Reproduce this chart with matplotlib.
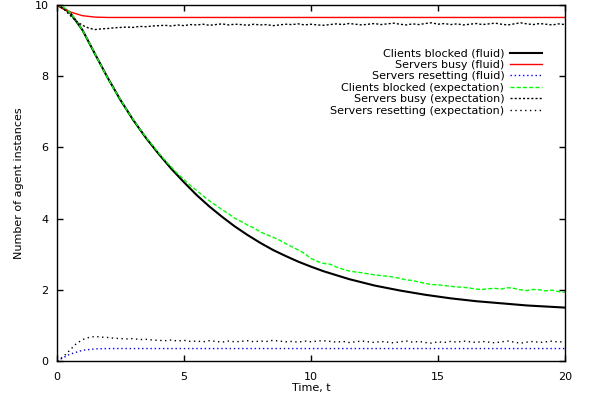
import numpy as np
import matplotlib
matplotlib.use('Agg')
import matplotlib.pyplot as plt

# time axes
t_fluid = np.arange(0, 20.01, 0.5)
t_sim = np.arange(0, 20.01, 0.25)

clients_fluid = [10.0, 9.80, 9.30, 8.62, 7.95, 7.33, 6.77, 6.27, 5.82, 5.40,
                 5.02, 4.66, 4.34, 4.05, 3.78, 3.54, 3.32, 3.12, 2.95, 2.79,
                 2.65, 2.52, 2.41, 2.30, 2.21, 2.12, 2.05, 1.98, 1.92, 1.86,
                 1.81, 1.76, 1.72, 1.68, 1.65, 1.62, 1.59, 1.56, 1.54, 1.52,
                 1.50]
busy_fluid = [10.0, 9.81, 9.70, 9.66, 9.65, 9.65, 9.65, 9.65, 9.65, 9.65,
              9.65, 9.65, 9.65, 9.65, 9.65, 9.65, 9.65, 9.65, 9.65, 9.65,
              9.65, 9.65, 9.65, 9.65, 9.65, 9.65, 9.65, 9.65, 9.65, 9.65,
              9.65, 9.65, 9.65, 9.65, 9.65, 9.65, 9.65, 9.65, 9.65, 9.65,
              9.65]
resetting_fluid = [0.0, 0.19, 0.30, 0.34, 0.35, 0.35, 0.35, 0.35, 0.35, 0.35,
                   0.35, 0.35, 0.35, 0.35, 0.35, 0.35, 0.35, 0.35, 0.35, 0.35,
                   0.35, 0.35, 0.35, 0.35, 0.35, 0.35, 0.35, 0.35, 0.35, 0.35,
                   0.35, 0.35, 0.35, 0.35, 0.35, 0.35, 0.35, 0.35, 0.35, 0.35,
                   0.35]

clients_exp = [10.00, 9.95, 9.80, 9.57, 9.30, 8.97, 8.63, 8.28, 7.95, 7.63,
               7.35, 7.05, 6.79, 6.53, 6.29, 6.07, 5.85, 5.64, 5.45, 5.26,
               5.10, 4.93, 4.79, 4.64, 4.50, 4.38, 4.25, 4.14, 4.01, 3.92,
               3.82, 3.74, 3.63, 3.55, 3.48, 3.40, 3.30, 3.21, 3.12, 3.02,
               2.88, 2.80, 2.74, 2.72, 2.64, 2.58, 2.53, 2.50, 2.48, 2.45,
               2.42, 2.40, 2.38, 2.36, 2.32, 2.28, 2.26, 2.22, 2.18, 2.15,
               2.14, 2.12, 2.10, 2.08, 2.07, 2.05, 2.02, 2.01, 2.03, 2.04,
               2.02, 2.06, 2.04, 2.00, 1.98, 2.01, 2.00, 1.97, 1.99, 1.95,
               1.93]
busy_exp = [10.00, 9.90, 9.72, 9.55, 9.43, 9.35, 9.31, 9.33, 9.34, 9.36,
            9.37, 9.38, 9.37, 9.40, 9.39, 9.41, 9.42, 9.43, 9.41, 9.44,
            9.42, 9.45, 9.44, 9.46, 9.43, 9.45, 9.47, 9.44, 9.46, 9.45,
            9.43, 9.46, 9.44, 9.45, 9.42, 9.44, 9.46, 9.45, 9.47, 9.44,
            9.46, 9.44, 9.43, 9.45, 9.47, 9.45, 9.48, 9.46, 9.44, 9.46,
            9.48, 9.45, 9.47, 9.49, 9.46, 9.44, 9.47, 9.45, 9.48, 9.50,
            9.46, 9.48, 9.45, 9.47, 9.44, 9.46, 9.48, 9.45, 9.47, 9.49,
            9.46, 9.44, 9.47, 9.50, 9.47, 9.45, 9.48, 9.46, 9.44, 9.47,
            9.45]
resetting_exp = [0.00, 0.12, 0.30, 0.48, 0.60, 0.66, 0.69, 0.67, 0.66, 0.64,
                 0.63, 0.62, 0.63, 0.60, 0.61, 0.59, 0.58, 0.57, 0.59, 0.56,
                 0.58, 0.55, 0.56, 0.54, 0.57, 0.55, 0.53, 0.56, 0.54, 0.55,
                 0.57, 0.54, 0.56, 0.55, 0.58, 0.56, 0.54, 0.55, 0.53, 0.56,
                 0.54, 0.56, 0.57, 0.55, 0.53, 0.55, 0.52, 0.54, 0.56, 0.54,
                 0.52, 0.55, 0.53, 0.51, 0.54, 0.56, 0.53, 0.55, 0.52, 0.50,
                 0.54, 0.52, 0.55, 0.53, 0.56, 0.54, 0.52, 0.55, 0.53, 0.51,
                 0.54, 0.56, 0.53, 0.50, 0.53, 0.55, 0.52, 0.54, 0.56, 0.53,
                 0.55]

plt.rcParams['font.family'] = 'DejaVu Sans'
plt.rcParams['font.size'] = 8

fig = plt.figure(figsize=(5.91, 4.01), dpi=100)
ax = fig.add_axes([57 / 591, 40 / 401, 508 / 591, 356 / 401])

ax.plot(t_fluid, clients_fluid, color='black', linewidth=1.5, label='Clients blocked (fluid)')
ax.plot(t_fluid, busy_fluid, color='red', linewidth=1.0, label='Servers busy (fluid)')
ax.plot(t_fluid, resetting_fluid, color='blue', linewidth=1.0, dashes=(1, 2),
        label='Servers resetting (fluid)')
ax.plot(t_sim, clients_exp, color='#00ff00', linewidth=1.0, dashes=(3, 1.5),
        label='Clients blocked (expectation)')
ax.plot(t_sim, busy_exp, color='black', linewidth=1.0, dashes=(1.5, 1.5),
        label='Servers busy (expectation)')
ax.plot(t_sim, resetting_exp, color='black', linewidth=1.0, dashes=(1, 2.5),
        label='Servers resetting (expectation)')

ax.set_xlim(0, 20)
ax.set_ylim(0, 10)
ax.set_xticks([0, 5, 10, 15, 20])
ax.set_yticks([0, 2, 4, 6, 8, 10])
ax.tick_params(direction='in', length=4, width=1, top=True, right=True)
ax.tick_params(axis='x', pad=8)
ax.tick_params(axis='y', pad=6)
for s in ax.spines.values():
    s.set_linewidth(1.0)

ax.set_xlabel('Time, t', labelpad=1)
ax.set_ylabel('Number of agent instances', labelpad=8)

ax.legend(loc='upper right', bbox_to_anchor=(0.955, 0.878), frameon=False,
          markerfirst=False, handlelength=2.9, handletextpad=0.5,
          labelspacing=0.13, borderpad=0, borderaxespad=0)

fig.savefig('out.png', dpi=100)
